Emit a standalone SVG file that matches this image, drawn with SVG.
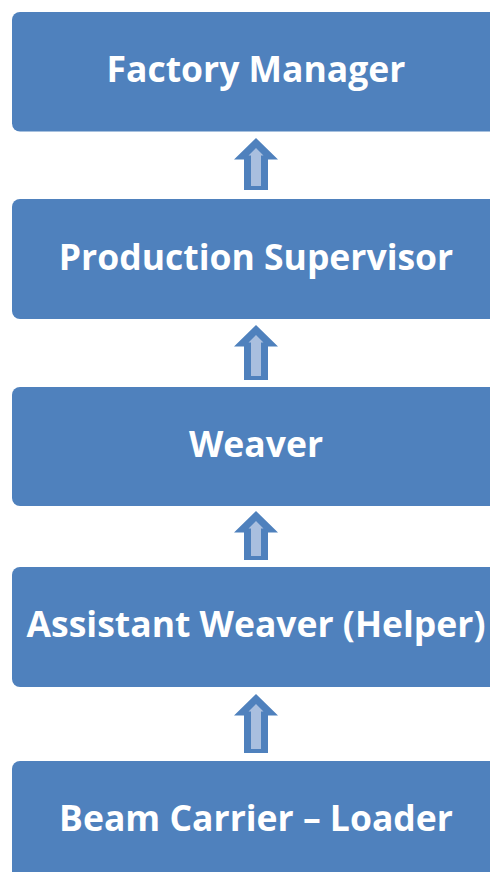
<svg xmlns="http://www.w3.org/2000/svg" width="490" height="872" viewBox="0 0 490 872">
  <style>
    .box { fill: #4f81bd; }
    .label { fill: #ffffff; font-family: "Open Sans", "Liberation Sans", sans-serif; font-weight: bold; font-size: 35.5px; text-anchor: middle; }
    .arrow-outer { fill: #4f81bd; }
    .arrow-inner { fill: #a9bfdf; }
  </style>
  <rect width="490" height="872" fill="#ffffff"/>

  <g id="factory-manager">
    <rect class="box" x="12" y="12" width="488" height="119.5" rx="8"/>
    <text class="label" x="256" y="82">Factory Manager</text>
  </g>
  <g id="production-supervisor">
    <rect class="box" x="12" y="199" width="488" height="120" rx="8"/>
    <text class="label" x="256" y="269.5">Production Supervisor</text>
  </g>
  <g id="weaver">
    <rect class="box" x="12" y="387" width="488" height="119" rx="8"/>
    <text class="label" x="256" y="457">Weaver</text>
  </g>
  <g id="assistant-weaver">
    <rect class="box" x="12" y="567" width="488" height="120" rx="8"/>
    <text class="label" x="256" y="637">Assistant Weaver (Helper)</text>
  </g>
  <g id="beam-carrier">
    <rect class="box" x="12" y="761" width="488" height="125" rx="8"/>
    <text class="label" x="256" y="831">Beam Carrier – Loader</text>
  </g>

  <!-- block up-arrows: dark outline shape with a light core -->
  <g id="connectors">
    <g>
      <path class="arrow-outer" d="M256,138 L278,159.5 L268,159.5 L268,190 L244,190 L244,159.5 L234,159.5 Z"/>
      <path class="arrow-inner" d="M256,148 L263.5,155.5 L261,155.5 L261,186 L251,186 L251,155.5 L248.5,155.5 Z"/>
    </g>
    <g>
      <path class="arrow-outer" d="M256,325 L278,346.5 L268,346.5 L268,380 L244,380 L244,346.5 L234,346.5 Z"/>
      <path class="arrow-inner" d="M256,335 L263.5,342.5 L261,342.5 L261,376 L251,376 L251,342.5 L248.5,342.5 Z"/>
    </g>
    <g>
      <path class="arrow-outer" d="M256,511 L278,532.5 L268,532.5 L268,560 L244,560 L244,532.5 L234,532.5 Z"/>
      <path class="arrow-inner" d="M256,521 L263.5,528.5 L261,528.5 L261,556 L251,556 L251,528.5 L248.5,528.5 Z"/>
    </g>
    <g>
      <path class="arrow-outer" d="M256,694 L278,715.5 L268,715.5 L268,753 L244,753 L244,715.5 L234,715.5 Z"/>
      <path class="arrow-inner" d="M256,704 L263.5,711.5 L261,711.5 L261,749 L251,749 L251,711.5 L248.5,711.5 Z"/>
    </g>
  </g>
</svg>
